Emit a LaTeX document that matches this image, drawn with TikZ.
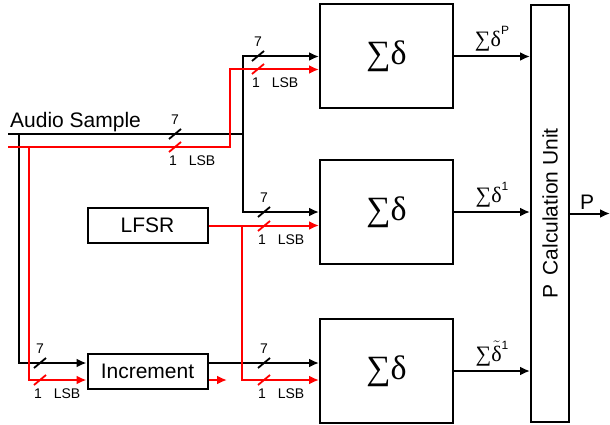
\documentclass[tikz,border=0pt]{standalone}
\usepackage{amsmath}
\usepackage{fontspec}
\setmainfont{Liberation Sans}
\newfontfamily\symserif{Liberation Serif}
\usetikzlibrary{arrows.meta}

\tikzset{
  sigbox/.style={draw=black,line width=2pt,minimum width=133pt,minimum height=104pt,inner sep=0pt,font=\fontsize{34}{34}\symserif},
  unitbox/.style={draw=black,line width=2pt,minimum width=120pt,minimum height=35pt,inner sep=0pt,font=\fontsize{21}{21}\selectfont},
  wire/.style={line width=2pt,draw=black},
  rwire/.style={line width=2pt,draw=red},
  buslbl/.style={font=\fontsize{14}{14}\selectfont,inner sep=0pt},
  siglbl/.style={font=\fontsize{22}{22}\symserif,inner sep=2pt},
  busmark/.pic={\draw[line width=1.8pt,#1] (-6,5) -- (6,-5);},
}
\newcommand{\suplbl}[1]{\raisebox{0.55em}{\fontsize{12}{12}\selectfont\rmfamily #1}}

\begin{document}
\begin{tikzpicture}[x=1pt,y=-1pt,>={Latex[length=10pt,width=9pt]}]
  \useasboundingbox (0,0) rectangle (610,425);
  % Blocks
  \node[sigbox] (sigA) at (386.5,56.5) {∑δ};
  \node[sigbox] (sigB) at (386.5,212) {∑δ};
  \node[sigbox] (sigC) at (386.5,371) {∑δ};
  \node[draw=black,line width=2pt,minimum width=38pt,minimum height=417pt,inner sep=0pt] (calc) at (550,213.5) {};
  \node[rotate=90,font=\fontsize{21}{21}\selectfont] (calctxt) at (calc.center) {P\, Calculation Unit};
  \node[unitbox] (lfsr) at (147.5,225.5) {LFSR};
  \node[unitbox] (inc) at (147.5,371) {Increment};
  % Input
  \node[anchor=base west,inner sep=0pt,font=\fontsize{21}{21}\selectfont] (audio) at (10,128) {Audio Sample};
  \coordinate (inB) at (8,134);
  \coordinate (inR) at (8,147);
  \coordinate (jB) at (243,134);
  \coordinate (jR) at (230,147);
  \coordinate (dB) at (19,134);
  \coordinate (dR) at (29,147);
  \coordinate (jL) at (242,225.5);
  \coordinate (incout) at (227,380);
  \coordinate (pout) at (610,213.5);
  % Black (7 bit) wires
  \draw[wire] (inB) -- (jB);
  \draw[wire,->] (jB) |- (sigA.west);
  \draw[wire,->] (jB) |- (sigB.west);
  \draw[wire,->] (dB) |- ([yshift=8pt]inc.west);
  \draw[wire,->] ([yshift=8pt]inc.east) -- ([yshift=8pt]sigC.west);
  % Red (LSB) wires
  \draw[rwire,->] (inR) -- (jR) |- ([yshift=-13pt]sigA.west);
  \draw[rwire,->] (dR) |- ([yshift=-9pt]inc.west);
  \draw[rwire,->] ([yshift=-9pt]inc.east) -- (incout);
  \draw[rwire,->] (lfsr.east) -- (lfsr.east -| sigB.west);
  \draw[rwire,->] (jL) |- ([yshift=-9pt]sigC.west);
  % Bus marks
  \foreach \x/\yb/\yr in {175/134/147, 258/56/69, 264/212/226, 40/363/380, 264/363/380}
  {\pic at (\x,\yb) {busmark=black}; \pic at (\x,\yr) {busmark=red};
   \node[buslbl] (seven-\x-\yb) at (\x,\yb-14) {7};
   \node[buslbl] (one-\x-\yr) at (\x-2,\yr+14) {1};
   \node[buslbl] (lsb-\x-\yr) at (\x+27,\yr+14) {LSB};}
  % Outputs
  \draw[wire,->] (sigA.east) -- (sigA.east -| calc.west) node[siglbl,midway,above,yshift=2pt] (oA) {∑δ\suplbl{P}};
  \draw[wire,->] (sigB.east) -- (sigB.east -| calc.west) node[siglbl,midway,above,yshift=2pt] (oB) {∑δ\suplbl{1}};
  \draw[wire,->] (sigC.east) -- (sigC.east -| calc.west) node[siglbl,midway,above,yshift=2pt] (oC) {∑$\tilde{\text{δ}}$\suplbl{1}};
  \draw[wire,->] (calc.east |- pout) -- (pout) node[midway,above,xshift=-3pt,font=\fontsize{21}{21}\selectfont] (pl) {P};
\end{tikzpicture}
\end{document}
